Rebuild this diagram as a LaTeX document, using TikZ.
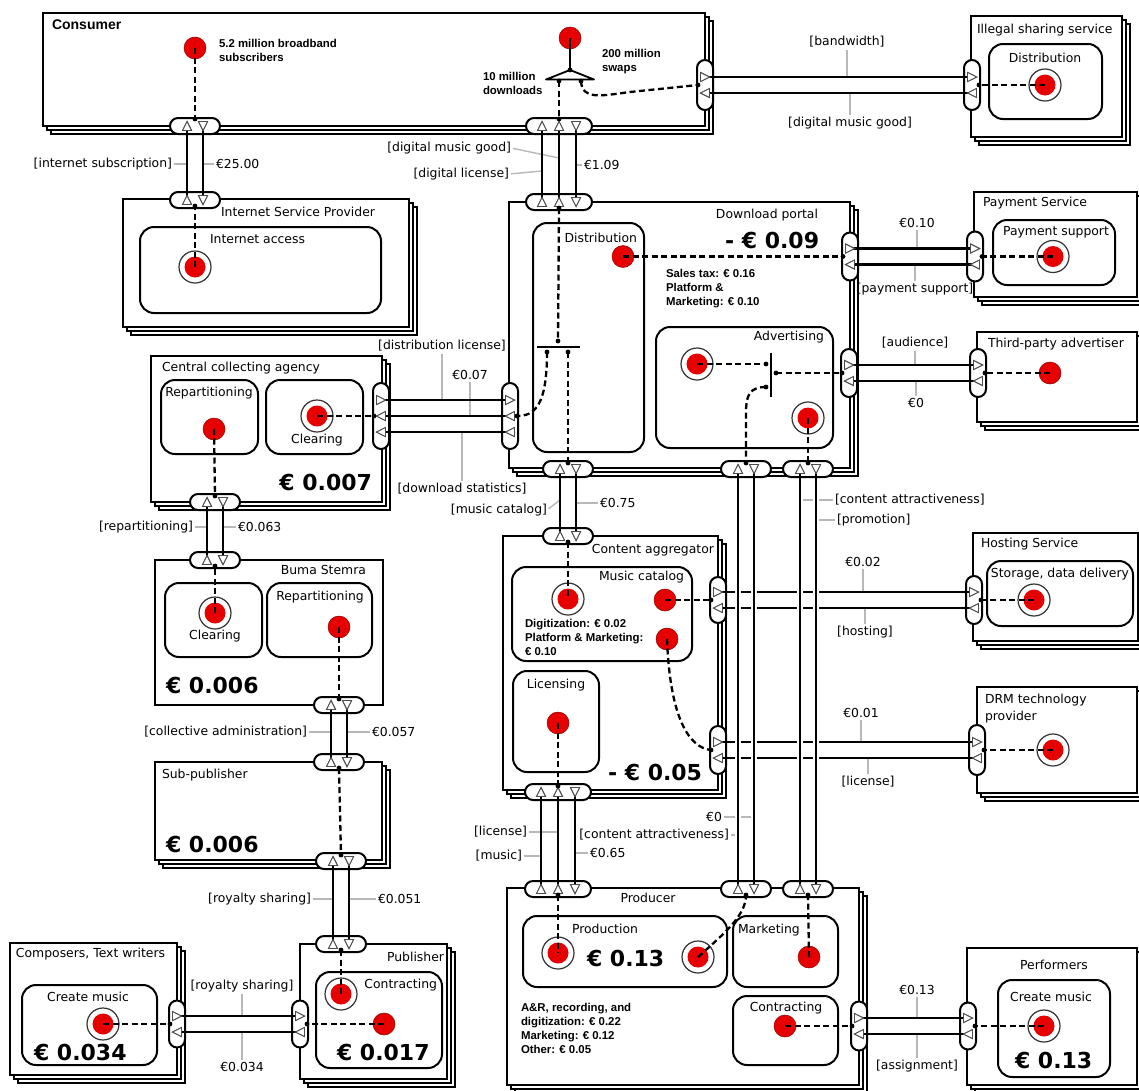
\documentclass[tikz,border=0pt]{standalone}
\usepackage{fontspec}
\setmainfont{DejaVu Sans}
\newfontfamily\notefont{Liberation Sans}
\definecolor{stimred}{RGB}{230,0,0}
% actor with stacked copies (market segment) and single actor
\newcommand{\mkactor}[4]{%
  \draw[stackbox] (#1+8,#2+8) rectangle (#3+8,#4+8);
  \draw[stackbox] (#1+4,#2+4) rectangle (#3+4,#4+4);
  \draw[actorbox] (#1,#2) rectangle (#3,#4);}
\newcommand{\mkagent}[4]{\draw[actorbox] (#1,#2) rectangle (#3,#4);}
% value ports (hollow triangles) at a named coordinate
\newcommand{\portu}[1]{\draw[porttri] ([shift={(-4.5,4.5)}]#1) -- ([shift={(4.5,4.5)}]#1) -- ([shift={(0,-4.5)}]#1) -- cycle;}
\newcommand{\portd}[1]{\draw[porttri] ([shift={(-4.5,-4.5)}]#1) -- ([shift={(4.5,-4.5)}]#1) -- ([shift={(0,4.5)}]#1) -- cycle;}
\newcommand{\portr}[1]{\draw[porttri] ([shift={(-4.5,-4.5)}]#1) -- ([shift={(-4.5,4.5)}]#1) -- ([shift={(4.5,0)}]#1) -- cycle;}
\newcommand{\portl}[1]{\draw[porttri] ([shift={(4.5,-4.5)}]#1) -- ([shift={(4.5,4.5)}]#1) -- ([shift={(-4.5,0)}]#1) -- cycle;}
% value exchange: [extra style]{source}{target}{direction u/d/l/r}
\newcommand{\xch}[4][]{%
  \draw[xline,#1] (#2) -- (#3);
  \csname port#4\endcsname{#2}\csname port#4\endcsname{#3}}
% stimuli
\newcommand{\stimS}[3]{\coordinate (#1) at (#2,#3);
  \fill[stimred] (#1) circle[radius=11pt];
  \draw[stimred!60!black,line width=0.5pt] (#1) circle[radius=11pt];}
\newcommand{\stimE}[3]{\coordinate (#1) at (#2,#3);
  \draw[black!80,line width=1.2pt,fill=white] (#1) circle[radius=16pt];
  \fill[stimred] (#1) circle[radius=10.5pt];}
\begin{document}
\begin{tikzpicture}[x=1pt,y=-1pt,
  every node/.style={inner sep=0pt,outer sep=0pt},
  actorbox/.style={draw=black,line width=2pt,fill=white},
  stackbox/.style={draw=black,line width=1.5pt,fill=white},
  activity/.style={draw=black,line width=2pt,rounded corners=14pt},
  pillfill/.style={fill=white,rounded corners=8pt},
  pillline/.style={draw=black,line width=2pt,rounded corners=8pt},
  xline/.style={draw=black,line width=2.4pt},
  halo/.style={preaction={draw=white,line width=6.5pt}},
  porttri/.style={draw=black!70,fill=white,line width=0.9pt},
  dep/.style={draw=black,line width=2.3pt,dash pattern=on 6pt off 3.5pt},
  leader/.style={draw=black!28,line width=1.4pt,shorten <=2pt},
  lbl/.style={font=\fontsize{12.4}{14}\selectfont},
  note/.style={font=\notefont\bfseries\fontsize{11.4}{14}\selectfont,align=left},
  big/.style={font=\bfseries\fontsize{22}{24}\selectfont},
  andbar/.style={draw=black,line width=1.6pt},
]
\useasboundingbox (0,0) rectangle (1139,1090);
\fill[white] (0,0) rectangle (1139,1090);

% ---------- actors ----------
\mkactor{43}{13}{705}{126}       % Consumer
\mkactor{971}{16}{1122}{137}     % Illegal sharing service
\mkactor{123}{199}{409}{327}     % Internet Service Provider
\mkactor{974}{192}{1137}{297}    % Payment Service
\mkactor{509}{202}{850}{468}     % Download portal
\mkactor{977}{332}{1137}{422}    % Third-party advertiser
\mkactor{151}{356}{382}{502}     % Central collecting agency
\mkagent{155}{560}{383}{705}     % Buma Stemra
\mkactor{155}{762}{382}{860}     % Sub-publisher
\mkactor{300}{944}{447}{1079}    % Publisher
\mkactor{10}{943}{177}{1075}     % Composers
\mkactor{503}{536}{718}{790}     % Content aggregator
\mkactor{973}{533}{1138}{641}    % Hosting Service
\mkactor{977}{687}{1137}{793}    % DRM technology provider
\mkactor{507}{888}{859}{1085}    % Producer
\mkactor{967}{948}{1137}{1085}   % Performers

% ---------- value activities ----------
\foreach \a/\b/\c/\d in {140/227/381/313, 989/44/1102/119, 993/220/1115/285,
  533/223/644/452, 656/327/833/448, 161/380/258/454, 266/380/363/454,
  165/583/262/657, 267/583/372/657, 316/972/442/1068, 22/985/157/1065,
  512/567/692/661, 513/671/599/772, 987/561/1133/626, 523/916/727/987,
  733/916/838/987, 733/996/838/1065, 998/980/1110/1077}
  \draw[activity] (\a,\b) rectangle (\c,\d);

% ---------- value interfaces (fill) ----------
\def\hpills{195/126/50,195/200/50,559/126/66,559/202/66,215/502/50,215/560/50,
  339/705/50,339/762/50,341/861/50,341/944/50,568/469/50,568/536/50,746/469/50,
  808/469/50,558/792/66,558/889/66,746/889/50,808/889/50}
\def\vpills{705/85/50,972/85/50,850/256.5/48,975/256.5/50,849/373/48,978/373/48,
  381/416/66,510/416/66,718/600/46,974/600/48,718/750/48,977/750/50,
  177/1024/47,300/1024/47,859/1026/49,968/1026/47}
\foreach \cx/\cy/\w in \hpills \fill[pillfill] (\cx-\w/2,\cy-8) rectangle (\cx+\w/2,\cy+8);
\foreach \cx/\cy/\h in \vpills \fill[pillfill] (\cx-8,\cy-\h/2) rectangle (\cx+8,\cy+\h/2);

% ---------- port coordinates ----------
\foreach \n/\x/\y in {e1s/187/200,e1t/187/126,e2s/203/126,e2t/203/200,
  e3s/542/202,e3t/542/126,e4s/559/202,e4t/559/126,e5s/576/126,e5t/576/202,
  e6s/705/77,e6t/972/77,e7s/972/93,e7t/705/93,
  e8s/850/248.5,e8t/975/248.5,e9s/975/264.5,e9t/850/264.5,
  e10s/849/365,e10t/978/365,e11s/978/381,e11t/849/381,
  e12s/381/400,e12t/510/400,e13s/510/416,e13t/381/416,e14s/510/432,e14t/381/432,
  e15s/207/560,e15t/207/502,e16s/223/502,e16t/223/560,
  e17s/331/762,e17t/331/705,e18s/347/705,e18t/347/762,
  e19s/333/944,e19t/333/861,e20s/349/861,e20t/349/944,
  e21s/177/1016,e21t/300/1016,e22s/300/1032,e22t/177/1032,
  e23s/560/536,e23t/560/469,e24s/576/469,e24t/576/536,
  e25s/718/592,e25t/974/592,e26s/974/608,e26t/718/608,
  e27s/718/742,e27t/977/742,e28s/977/758,e28t/718/758,
  e29s/738/889,e29t/738/469,e30s/754/469,e30t/754/889,
  e31s/800/889,e31t/800/469,e32s/816/469,e32t/816/889,
  e33s/541/889,e33t/541/792,e34s/558/889,e34t/558/792,e35s/575/792,e35t/575/889,
  e36s/859/1018,e36t/968/1018,e37s/968/1034,e37t/859/1034}
  \coordinate (\n) at (\x,\y);

% connection points of the interfaces
\foreach \n/\x/\y in {c1/195/119,c2/195/206,c3/559/119,c4/559/208,c5/698/85,c6/979/85,
  c7/843/256.5,c8/982/256.5,c9/842/373,c10/985/373,c11/374/416,c12/517/416,
  c13/215/496,c14/215/566,c15/339/699,c16/339/768,c17/341/855,c18/341/950,
  c19/170/1024,c20/307/1024,c21/568/463,c22/568/542,c23/746/463,c24/808/463,
  c25/558/786,c26/558/895,c27/746/895,c28/808/895,c29/711/600,c30/981/600,
  c31/711/750,c32/984/750,c33/852/1026,c34/975/1026,
  and1t/558/341,and1l/547/352,and1r/568/352,
  and2a/766/364,and2b/766/387,and2c/776/373,
  orA/570/70,orL/559/81,orR/581/81}
  \coordinate (\n) at (\x,\y);

% ---------- exchange labels ----------
\node[lbl,anchor=east] (lb1) at (172,164) {[internet subscription]};
\node[lbl,anchor=west] (lb2) at (216,164) {€25.00};
\node[lbl,anchor=east] (lb3) at (511,148) {[digital music good]};
\node[lbl,anchor=east] (lb4) at (509,174) {[digital license]};
\node[lbl,anchor=west] (lb5) at (584,165) {€1.09};
\node[lbl] (lb6) at (847,42) {[bandwidth]};
\node[lbl] (lb7) at (850,123) {[digital music good]};
\node[lbl] (lb8) at (917,223) {€0.10};
\node[lbl] (lb9) at (915,289) {[payment support]};
\node[lbl] (lb10) at (915,343) {[audience]};
\node[lbl] (lb11) at (916,403) {€0};
\node[lbl] (lb12) at (442,346) {[distribution license]};
\node[lbl] (lb13) at (470,375) {€0.07};
\node[lbl] (lb14) at (462,489) {[download statistics]};
\node[lbl,anchor=east] (lb15) at (193,527) {[repartitioning]};
\node[lbl,anchor=west] (lb16) at (238,527) {€0.063};
\node[lbl,anchor=east] (lb17) at (307,732) {[collective administration]};
\node[lbl,anchor=west] (lb18) at (372,732) {€0.057};
\node[lbl,anchor=east] (lb19) at (311,899) {[royalty sharing]};
\node[lbl,anchor=west] (lb20) at (378,899) {€0.051};
\node[lbl] (lb21) at (242,986) {[royalty sharing]};
\node[lbl] (lb22) at (242,1067) {€0.034};
\node[lbl,anchor=east] (lb23) at (547,510) {[music catalog]};
\node[lbl,anchor=west] (lb24) at (600,503) {€0.75};
\node[lbl] (lb25) at (863,562) {€0.02};
\node[lbl] (lb26) at (865,632) {[hosting]};
\node[lbl] (lb27) at (861,713) {€0.01};
\node[lbl] (lb28) at (868,782) {[license]};
\node[lbl,anchor=east] (lb29) at (729,835) {[content attractiveness]};
\node[lbl,anchor=east] (lb30) at (722,817) {€0};
\node[lbl,anchor=west] (lb31) at (835,500) {[content attractiveness]};
\node[lbl,anchor=west] (lb32) at (837,520) {[promotion]};
\node[lbl,anchor=east] (lb33) at (522,856) {[music]};
\node[lbl,anchor=east] (lb34) at (527,832) {[license]};
\node[lbl,anchor=west] (lb35) at (590,853) {€0.65};
\node[lbl] (lb36) at (917,990) {€0.13};
\node[lbl] (lb37) at (917,1066) {[assignment]};

% ---------- label leaders ----------
\draw[leader] (lb1.east) -- (lb1.east -| e1s);
\draw[leader] (lb2.west) -- (lb2.west -| e2s);
\draw[leader] (lb3.east) -- (559,158);
\draw[leader] (lb4.east) -- (542,171);
\draw[leader] (lb5.west) -- (lb5.west -| e5s);
\draw[leader] (lb6.south) -- (lb6.south |- e6s);
\draw[leader] (lb7.north) -- (lb7.north |- e7s);
\draw[leader] (lb8.south) -- (lb8.south |- e8s);
\draw[leader] (lb9.north) -- (lb9.north |- e9s);
\draw[leader] (lb10.south) -- (lb10.south |- e10s);
\draw[leader] (lb11.north) -- (lb11.north |- e11s);
\draw[leader] (lb12.south) -- (lb12.south |- e12s);
\draw[leader] (lb13.south) -- (lb13.south |- e13s);
\draw[leader] (lb14.north) -- (lb14.north |- e14s);
\draw[leader] (lb15.east) -- (lb15.east -| e15s);
\draw[leader] (lb16.west) -- (lb16.west -| e16s);
\draw[leader] (lb17.east) -- (lb17.east -| e17s);
\draw[leader] (lb18.west) -- (lb18.west -| e18s);
\draw[leader] (lb19.east) -- (lb19.east -| e19s);
\draw[leader] (lb20.west) -- (lb20.west -| e20s);
\draw[leader] (lb21.south) -- (lb21.south |- e21s);
\draw[leader] (lb22.north) -- (lb22.north |- e22s);
\draw[leader] (lb23.east) -- (560,500);
\draw[leader] (lb24.west) -- (lb24.west -| e24s);
\draw[leader] (lb25.south) -- (lb25.south |- e25s);
\draw[leader] (lb26.north) -- (lb26.north |- e26s);
\draw[leader] (lb27.south) -- (lb27.south |- e27s);
\draw[leader] (lb28.north) -- (lb28.north |- e28s);
\draw[leader] (lb29.east) -- (lb29.east -| e29s);
\draw[leader] (lb30.east) -- (lb30.east -| e30s);
\draw[leader] (lb31.west) -- (lb31.west -| e31s);
\draw[leader] (lb32.west) -- (lb32.west -| e32s);
\draw[leader] (lb33.east) -- (lb33.east -| e33s);
\draw[leader] (lb34.east) -- (lb34.east -| e34s);
\draw[leader] (lb35.west) -- (lb35.west -| e35s);
\draw[leader] (lb36.south) -- (lb36.south |- e36s);
\draw[leader] (lb37.north) -- (lb37.north |- e37s);

% ---------- value exchanges ----------
\xch{e1s}{e1t}{u} \xch{e2s}{e2t}{d}
\xch{e3s}{e3t}{u} \xch{e4s}{e4t}{u} \xch{e5s}{e5t}{d}
\xch{e6s}{e6t}{r} \xch{e7s}{e7t}{l}
\xch{e8s}{e8t}{r} \xch{e9s}{e9t}{l}
\xch{e10s}{e10t}{r} \xch{e11s}{e11t}{l}
\xch{e12s}{e12t}{r} \xch{e13s}{e13t}{l} \xch{e14s}{e14t}{l}
\xch{e15s}{e15t}{u} \xch{e16s}{e16t}{d}
\xch{e17s}{e17t}{u} \xch{e18s}{e18t}{d}
\xch{e19s}{e19t}{u} \xch{e20s}{e20t}{d}
\xch{e21s}{e21t}{r} \xch{e22s}{e22t}{l}
\xch{e23s}{e23t}{u} \xch{e24s}{e24t}{d}
\xch{e25s}{e25t}{r} \xch{e26s}{e26t}{l}
\xch{e27s}{e27t}{r} \xch{e28s}{e28t}{l}
\xch[halo]{e29s}{e29t}{u} \xch[halo]{e30s}{e30t}{d}
\xch[halo]{e31s}{e31t}{u} \xch[halo]{e32s}{e32t}{d}
\xch{e33s}{e33t}{u} \xch{e34s}{e34t}{u} \xch{e35s}{e35t}{d}
\xch{e36s}{e36t}{r} \xch{e37s}{e37t}{l}

% ---------- value interfaces (outline) ----------
\foreach \cx/\cy/\w in \hpills \draw[pillline] (\cx-\w/2,\cy-8) rectangle (\cx+\w/2,\cy+8);
\foreach \cx/\cy/\h in \vpills \draw[pillline] (\cx-8,\cy-\h/2) rectangle (\cx+8,\cy+\h/2);
% redraw ports over the outlines
\portu{e1s}\portu{e1t}\portd{e2s}\portd{e2t}
\portu{e3s}\portu{e3t}\portu{e4s}\portu{e4t}\portd{e5s}\portd{e5t}
\portr{e6s}\portr{e6t}\portl{e7s}\portl{e7t}
\portr{e8s}\portr{e8t}\portl{e9s}\portl{e9t}
\portr{e10s}\portr{e10t}\portl{e11s}\portl{e11t}
\portr{e12s}\portr{e12t}\portl{e13s}\portl{e13t}\portl{e14s}\portl{e14t}
\portu{e15s}\portu{e15t}\portd{e16s}\portd{e16t}
\portu{e17s}\portu{e17t}\portd{e18s}\portd{e18t}
\portu{e19s}\portu{e19t}\portd{e20s}\portd{e20t}
\portr{e21s}\portr{e21t}\portl{e22s}\portl{e22t}
\portu{e23s}\portu{e23t}\portd{e24s}\portd{e24t}
\portr{e25s}\portr{e25t}\portl{e26s}\portl{e26t}
\portr{e27s}\portr{e27t}\portl{e28s}\portl{e28t}
\portu{e29s}\portu{e29t}\portd{e30s}\portd{e30t}
\portu{e31s}\portu{e31t}\portd{e32s}\portd{e32t}
\portu{e33s}\portu{e33t}\portu{e34s}\portu{e34t}\portd{e35s}\portd{e35t}
\portr{e36s}\portr{e36t}\portl{e37s}\portl{e37t}

% ---------- stimuli ----------
\stimS{s1}{195}{48}
\stimS{s2}{570}{38}
\stimE{s3}{195}{267}
\stimE{s4}{1045}{85}
\stimE{s5}{1053}{256.5}
\stimS{s6}{623}{256.5}
\stimE{s7}{697}{364}
\stimE{s8}{808}{418}
\stimS{s9}{1050}{373}
\stimS{s10}{214}{429}
\stimE{s11}{317}{416}
\stimE{s12}{215}{613}
\stimS{s13}{339}{627}
\stimE{s14}{341}{994}
\stimS{s15}{384}{1024}
\stimE{s16}{103}{1024}
\stimE{s17}{568}{599}
\stimS{s18}{665}{600}
\stimS{s19}{667}{639}
\stimS{s20}{558}{723}
\stimE{s21}{1034}{600}
\stimE{s22}{1053}{750}
\stimE{s23}{558}{953}
\stimE{s24}{698}{957}
\stimS{s25}{809}{957}
\stimS{s26}{785}{1026}
\stimE{s27}{1044}{1026}

% ---------- OR fork and AND joins ----------
\draw[line width=2pt] (s2) -- (orA);
\draw[line width=1.8pt,fill=white,line join=round] (546,79.5) -- (orA) -- (594,79.5) -- cycle;
\draw[andbar] (537,347) -- (580,347);
\draw[andbar] (771,353) -- (771,397);

% ---------- dependency paths ----------
\draw[dep] (s1) -- (c1);
\draw[dep] (s3) -- (c2);
\draw[dep] (orL) -- (c3);
\draw[dep] (orR) .. controls (582,100) and (600,96) .. (630,92) -- (c5);
\draw[dep] (s4) -- (c6);
\draw[dep] (s5) -- (c8);
\draw[dep] (s6) -- (c7);
\draw[dep] (c4) -- (and1t);
\draw[dep] (and1l) .. controls (547,405) and (535,416) .. (c12);
\draw[dep] (and1r) -- (c21);
\draw[dep] (s7) -- (and2a);
\draw[dep] (and2c) -- (c9);
\draw[dep] (and2b) .. controls (750,387) and (746,395) .. (746,412) -- (c23);
\draw[dep] (s8) -- (c24);
\draw[dep] (s9) -- (c10);
\draw[dep] (s11) -- (c11);
\draw[dep] (s10) -- (c13);
\draw[dep] (s12) -- (c14);
\draw[dep] (s13) -- (c15);
\draw[dep] (c16) -- (c17);
\draw[dep] (c18) -- (s14);
\draw[dep] (s15) -- (c20);
\draw[dep] (s16) -- (c19);
\draw[dep] (c22) -- (s17);
\draw[dep] (s18) -- (c29);
\draw[dep] (s19) .. controls (670,720) and (690,748) .. (c31);
\draw[dep] (s20) -- (c25);
\draw[dep] (c26) -- (s23);
\draw[dep] (s24) .. controls (725,933) and (746,915) .. (c27);
\draw[dep] (s25) -- (c28);
\draw[dep] (s26) -- (c33);
\draw[dep] (s27) -- (c34);
\draw[dep] (s21) -- (c30);
\draw[dep] (s22) -- (c32);

\foreach \c in {c1,c2,c3,c4,c5,c6,c7,c8,c9,c10,c11,c12,c13,c14,c15,c16,c17,
  c18,c19,c20,c21,c22,c23,c24,c25,c26,c27,c28,c29,c30,c31,c32,c33,c34,
  and1t,and1l,and1r,and2a,and2b,and2c,orA,orL,orR}
  \fill (\c) circle[radius=2.4pt];

% ---------- actor titles ----------
\node[note,font=\notefont\bfseries\fontsize{14}{16}\selectfont,anchor=west] (tConsumer) at (52,25) {Consumer};
\node[lbl,anchor=west] (tIllegal) at (977,30) {Illegal sharing service};
\node[lbl,anchor=west] (tISP) at (221,212) {Internet Service Provider};
\node[lbl,anchor=west] (tPay) at (983,203) {Payment Service};
\node[lbl,anchor=east] (tDP) at (818,215) {Download portal};
\node[lbl,anchor=west] (tTPA) at (988,344) {Third-party advertiser};
\node[lbl,anchor=west] (tCCA) at (162,368) {Central collecting agency};
\node[lbl,anchor=east] (tBuma) at (366,570) {Buma Stemra};
\node[lbl,anchor=west] (tSub) at (162,775) {Sub-publisher};
\node[lbl,anchor=east] (tPub) at (444,957) {Publisher};
\node[lbl,anchor=west] (tComp) at (16,954) {Composers, Text writers};
\node[lbl,anchor=east] (tCA) at (714,550) {Content aggregator};
\node[lbl,anchor=west] (tHost) at (981,544) {Hosting Service};
\node[lbl,font=\fontsize{12.4}{17}\selectfont,anchor=north west,align=left] (tDRM) at (985,694) {DRM technology\\provider};
\node[lbl] (tProd) at (648,898) {Producer};
\node[lbl] (tPerf) at (1054,965) {Performers};

% ---------- activity titles ----------
\node[lbl,anchor=west] (aISP) at (210,239) {Internet access};
\node[lbl] (aIll) at (1045,58) {Distribution};
\node[lbl] (aPay) at (1056,232) {Payment support};
\node[lbl,anchor=east] (aDPd) at (637,238) {Distribution};
\node[lbl,anchor=east] (aAdv) at (824,337) {Advertising};
\node[lbl] (aCCr) at (209,393) {Repartitioning};
\node[lbl] (aCCc) at (317,440) {Clearing};
\node[lbl] (aBuc) at (215,636) {Clearing};
\node[lbl] (aBur) at (320,597) {Repartitioning};
\node[lbl,anchor=east] (aPub) at (437,985) {Contracting};
\node[lbl] (aComp) at (88,997) {Create music};
\node[lbl,anchor=east] (aMC) at (684,577) {Music catalog};
\node[lbl] (aLic) at (556,685) {Licensing};
\node[lbl] (aHost) at (1060,574) {Storage, data delivery};
\node[lbl,anchor=west] (aProd) at (572,929) {Production};
\node[lbl,anchor=west] (aMkt) at (738,930) {Marketing};
\node[lbl] (aCon) at (786,1008) {Contracting};
\node[lbl] (aPerf) at (1051,997) {Create music};

% ---------- annotations ----------
\node[note,anchor=west] (n1) at (219,50) {5.2 million broadband\\subscribers};
\node[note,anchor=west] (n2) at (483,83.5) {10 million\\downloads};
\node[note,anchor=west] (n3) at (602,61.5) {200 million\\swaps};
\node[note,anchor=west] (n4) at (666,289) {Sales tax: € 0.16\\Platform \&\\Marketing: € 0.10};
\node[note,anchor=west] (n5) at (525,637) {Digitization: € 0.02\\Platform \& Marketing:\\€ 0.10};
\node[note,anchor=west] (n6) at (521,1028) {A\&R, recording, and\\digitization: € 0.22\\Marketing: € 0.12\\Other: € 0.05};

% ---------- profit figures ----------
\node[big,anchor=base west] (vDP) at (725,248) {- € 0.09};
\node[big,anchor=base east] (vCCA) at (372,490) {€ 0.007};
\node[big,anchor=base west] (vBuma) at (166,693) {€ 0.006};
\node[big,anchor=base west] (vSub) at (166,852) {€ 0.006};
\node[big,anchor=base west] (vPub) at (337,1060) {€ 0.017};
\node[big,anchor=base west] (vComp) at (34,1060) {€ 0.034};
\node[big,anchor=base west] (vCA) at (608,780) {- € 0.05};
\node[big,anchor=base west] (vProd) at (587,966) {€ 0.13};
\node[big,anchor=base west] (vPerf) at (1015,1068) {€ 0.13};
\end{tikzpicture}
\end{document}
